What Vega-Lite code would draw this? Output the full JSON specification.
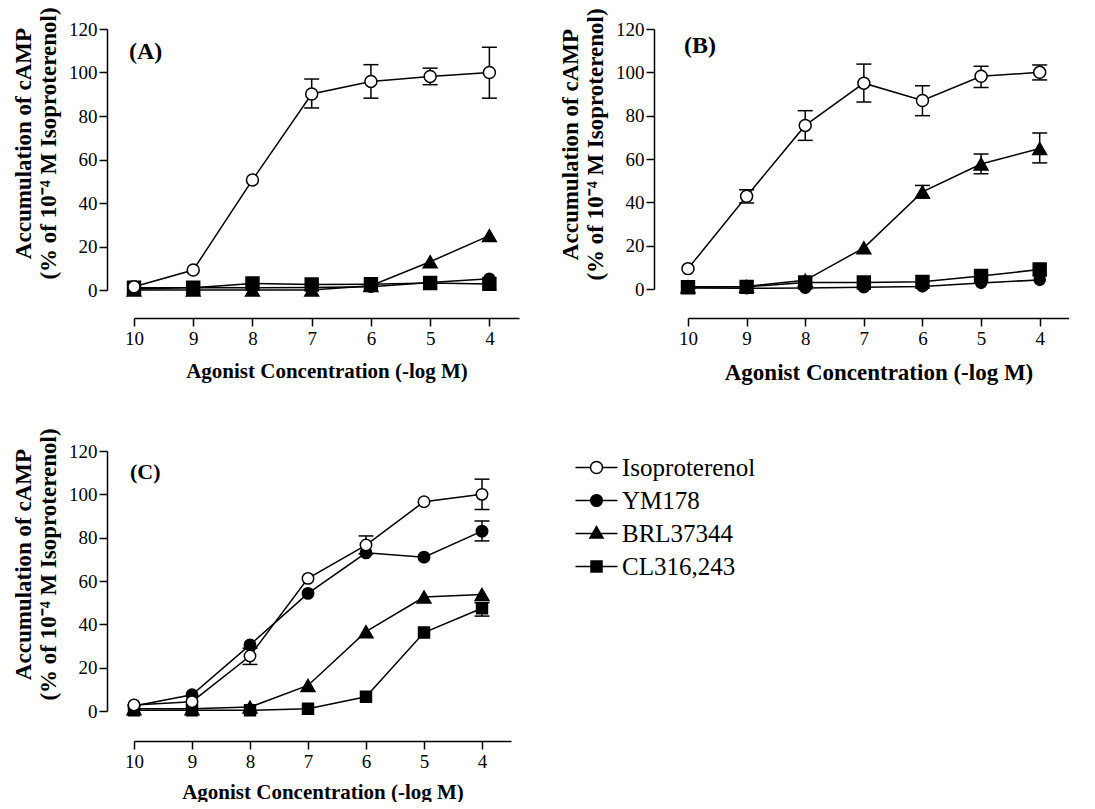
{
  "$schema": "https://vega.github.io/schema/vega-lite/v6.json",
  "background": "white",
  "padding": {"left": 12, "top": 6, "right": 0, "bottom": 0},
  "datasets": {
    "pts": [
      {"p": "A", "drug": "CL316,243", "x": 10, "y": 1},
      {"p": "A", "drug": "CL316,243", "x": 9, "y": 1},
      {"p": "A", "drug": "CL316,243", "x": 8, "y": 3},
      {"p": "A", "drug": "CL316,243", "x": 7, "y": 2.5},
      {"p": "A", "drug": "CL316,243", "x": 6, "y": 2.7},
      {"p": "A", "drug": "CL316,243", "x": 5, "y": 3.2},
      {"p": "A", "drug": "CL316,243", "x": 4, "y": 2.8},
      {"p": "A", "drug": "BRL37344", "x": 10, "y": 0},
      {"p": "A", "drug": "BRL37344", "x": 9, "y": 0},
      {"p": "A", "drug": "BRL37344", "x": 8, "y": 0},
      {"p": "A", "drug": "BRL37344", "x": 7, "y": 0},
      {"p": "A", "drug": "BRL37344", "x": 6, "y": 2},
      {"p": "A", "drug": "BRL37344", "x": 5, "y": 13},
      {"p": "A", "drug": "BRL37344", "x": 4, "y": 25},
      {"p": "A", "drug": "YM178", "x": 10, "y": 0.5},
      {"p": "A", "drug": "YM178", "x": 9, "y": 1.2},
      {"p": "A", "drug": "YM178", "x": 8, "y": 1.0},
      {"p": "A", "drug": "YM178", "x": 7, "y": 1.2},
      {"p": "A", "drug": "YM178", "x": 6, "y": 1.5},
      {"p": "A", "drug": "YM178", "x": 5, "y": 3.4},
      {"p": "A", "drug": "YM178", "x": 4, "y": 5.2},
      {"p": "A", "drug": "Isoproterenol", "x": 10, "y": 1.5},
      {"p": "A", "drug": "Isoproterenol", "x": 9, "y": 9.2},
      {"p": "A", "drug": "Isoproterenol", "x": 8, "y": 50.6},
      {"p": "A", "drug": "Isoproterenol", "x": 7, "y": 90.1},
      {"p": "A", "drug": "Isoproterenol", "x": 6, "y": 95.9},
      {"p": "A", "drug": "Isoproterenol", "x": 5, "y": 98.2},
      {"p": "A", "drug": "Isoproterenol", "x": 4, "y": 100},

      {"p": "B", "drug": "CL316,243", "x": 10, "y": 0.8},
      {"p": "B", "drug": "CL316,243", "x": 9, "y": 1},
      {"p": "B", "drug": "CL316,243", "x": 8, "y": 3},
      {"p": "B", "drug": "CL316,243", "x": 7, "y": 3},
      {"p": "B", "drug": "CL316,243", "x": 6, "y": 3.3},
      {"p": "B", "drug": "CL316,243", "x": 5, "y": 6},
      {"p": "B", "drug": "CL316,243", "x": 4, "y": 9},
      {"p": "B", "drug": "BRL37344", "x": 10, "y": 1},
      {"p": "B", "drug": "BRL37344", "x": 9, "y": 1.2},
      {"p": "B", "drug": "BRL37344", "x": 8, "y": 4},
      {"p": "B", "drug": "BRL37344", "x": 7, "y": 19},
      {"p": "B", "drug": "BRL37344", "x": 6, "y": 44.8},
      {"p": "B", "drug": "BRL37344", "x": 5, "y": 57.7},
      {"p": "B", "drug": "BRL37344", "x": 4, "y": 64.8},
      {"p": "B", "drug": "YM178", "x": 10, "y": 0.5},
      {"p": "B", "drug": "YM178", "x": 9, "y": 0.3},
      {"p": "B", "drug": "YM178", "x": 8, "y": 0.5},
      {"p": "B", "drug": "YM178", "x": 7, "y": 0.8},
      {"p": "B", "drug": "YM178", "x": 6, "y": 1.2},
      {"p": "B", "drug": "YM178", "x": 5, "y": 2.8},
      {"p": "B", "drug": "YM178", "x": 4, "y": 4.2},
      {"p": "B", "drug": "Isoproterenol", "x": 10, "y": 9.4},
      {"p": "B", "drug": "Isoproterenol", "x": 9, "y": 42.8},
      {"p": "B", "drug": "Isoproterenol", "x": 8, "y": 75.5},
      {"p": "B", "drug": "Isoproterenol", "x": 7, "y": 95},
      {"p": "B", "drug": "Isoproterenol", "x": 6, "y": 87},
      {"p": "B", "drug": "Isoproterenol", "x": 5, "y": 98.2},
      {"p": "B", "drug": "Isoproterenol", "x": 4, "y": 100},

      {"p": "C", "drug": "CL316,243", "x": 10, "y": 0.3},
      {"p": "C", "drug": "CL316,243", "x": 9, "y": 0.3},
      {"p": "C", "drug": "CL316,243", "x": 8, "y": 0.3},
      {"p": "C", "drug": "CL316,243", "x": 7, "y": 1},
      {"p": "C", "drug": "CL316,243", "x": 6, "y": 6.6},
      {"p": "C", "drug": "CL316,243", "x": 5, "y": 36.2},
      {"p": "C", "drug": "CL316,243", "x": 4, "y": 47.4},
      {"p": "C", "drug": "BRL37344", "x": 10, "y": 1},
      {"p": "C", "drug": "BRL37344", "x": 9, "y": 1},
      {"p": "C", "drug": "BRL37344", "x": 8, "y": 1.8},
      {"p": "C", "drug": "BRL37344", "x": 7, "y": 11.8},
      {"p": "C", "drug": "BRL37344", "x": 6, "y": 36.6},
      {"p": "C", "drug": "BRL37344", "x": 5, "y": 52.6},
      {"p": "C", "drug": "BRL37344", "x": 4, "y": 53.8},
      {"p": "C", "drug": "YM178", "x": 10, "y": 2.3},
      {"p": "C", "drug": "YM178", "x": 9, "y": 7.5},
      {"p": "C", "drug": "YM178", "x": 8, "y": 30.5},
      {"p": "C", "drug": "YM178", "x": 7, "y": 54.3},
      {"p": "C", "drug": "YM178", "x": 6, "y": 73},
      {"p": "C", "drug": "YM178", "x": 5, "y": 71},
      {"p": "C", "drug": "YM178", "x": 4, "y": 83},
      {"p": "C", "drug": "Isoproterenol", "x": 10, "y": 2.8},
      {"p": "C", "drug": "Isoproterenol", "x": 9, "y": 4.3},
      {"p": "C", "drug": "Isoproterenol", "x": 8, "y": 25.4},
      {"p": "C", "drug": "Isoproterenol", "x": 7, "y": 61.2},
      {"p": "C", "drug": "Isoproterenol", "x": 6, "y": 76.6},
      {"p": "C", "drug": "Isoproterenol", "x": 5, "y": 96.6},
      {"p": "C", "drug": "Isoproterenol", "x": 4, "y": 100}
    ],
    "err": [
      {"p": "A", "drug": "Isoproterenol", "x": 7, "lo": 83.7, "hi": 97},
      {"p": "A", "drug": "Isoproterenol", "x": 6, "lo": 88.2, "hi": 103.6},
      {"p": "A", "drug": "Isoproterenol", "x": 5, "lo": 94.4, "hi": 102},
      {"p": "A", "drug": "Isoproterenol", "x": 4, "lo": 88.2, "hi": 111.6},
      {"p": "B", "drug": "Isoproterenol", "x": 9, "lo": 39.7, "hi": 45.8},
      {"p": "B", "drug": "Isoproterenol", "x": 8, "lo": 68.6, "hi": 82.3},
      {"p": "B", "drug": "Isoproterenol", "x": 7, "lo": 86.3, "hi": 103.8},
      {"p": "B", "drug": "Isoproterenol", "x": 6, "lo": 80, "hi": 93.8},
      {"p": "B", "drug": "Isoproterenol", "x": 5, "lo": 93, "hi": 102.8},
      {"p": "B", "drug": "Isoproterenol", "x": 4, "lo": 96.5, "hi": 103.4},
      {"p": "B", "drug": "BRL37344", "x": 6, "lo": 42, "hi": 47.8},
      {"p": "B", "drug": "BRL37344", "x": 5, "lo": 53.2, "hi": 62.3},
      {"p": "B", "drug": "BRL37344", "x": 4, "lo": 58.2, "hi": 72},
      {"p": "C", "drug": "Isoproterenol", "x": 8, "lo": 21.5, "hi": 29},
      {"p": "C", "drug": "Isoproterenol", "x": 6, "lo": 72.5, "hi": 80.8},
      {"p": "C", "drug": "Isoproterenol", "x": 4, "lo": 93, "hi": 107},
      {"p": "C", "drug": "YM178", "x": 4, "lo": 78.5, "hi": 87.7},
      {"p": "C", "drug": "CL316,243", "x": 4, "lo": 43.8, "hi": 50}
    ]
  },
  "spacing": 43,
  "resolve": {"scale": {"shape": "independent", "fill": "independent", "size": "independent", "stroke": "independent"}, "legend": {"shape": "independent", "fill": "independent", "size": "independent", "stroke": "independent"}},
  "vconcat": [
    {
      "spacing": 40,
      "resolve": {"scale": {"shape": "independent", "fill": "independent", "size": "independent", "stroke": "independent"}, "legend": {"shape": "independent", "fill": "independent", "size": "independent", "stroke": "independent"}},
      "hconcat": [
        {
          "width": 385,
          "height": 261,
          "title": {"text": "(A)", "anchor": "start", "frame": "group", "orient": "top", "offset": -57, "dx": -5, "font": "Liberation Serif", "fontSize": 24, "fontWeight": "bold", "color": "black"},
          "encoding": {
            "x": {"field": "x", "type": "quantitative", "scale": {"domain": [10, 3.5], "nice": false, "zero": false},
                  "axis": {"title": "Agonist Concentration (-log M)", "values": [10, 9, 8, 7, 6, 5, 4], "format": "d", "offset": 28, "titleFontSize": 21, "titlePadding": 12}}
          },
          "layer": [
            {
              "data": {"name": "pts"}, "transform": [{"filter": "datum.p === 'A'"}],
              "mark": {"type": "line", "color": "black", "strokeWidth": 1.5},
              "encoding": {
                "y": {"field": "y", "type": "quantitative", "scale": {"domain": [0, 120], "nice": false, "zero": false},
                      "axis": {"title": ["Accumulation of cAMP", "(% of 10⁻⁴ M Isoproterenol)"], "values": [0, 20, 40, 60, 80, 100, 120], "offset": 27, "titleY": 114}},
                "detail": {"field": "drug"}
              }
            },
            {
              "data": {"name": "err"}, "transform": [{"filter": "datum.p === 'A'"}],
              "mark": {"type": "rule", "color": "black", "strokeWidth": 1.5},
              "encoding": {
                "y": {"field": "lo", "type": "quantitative", "scale": {"domain": [0, 120], "nice": false, "zero": false},
                      "axis": {"title": ["Accumulation of cAMP", "(% of 10⁻⁴ M Isoproterenol)"], "values": [0, 20, 40, 60, 80, 100, 120], "offset": 27, "titleY": 114}},
                "y2": {"field": "hi"}
              }
            },
            {
              "data": {"name": "err"}, "transform": [{"filter": "datum.p === 'A'"}],
              "mark": {"type": "tick", "orient": "horizontal", "color": "black", "size": 15, "thickness": 1.5, "opacity": 1},
              "encoding": {
                "y": {"field": "lo", "type": "quantitative", "scale": {"domain": [0, 120], "nice": false, "zero": false},
                      "axis": {"title": ["Accumulation of cAMP", "(% of 10⁻⁴ M Isoproterenol)"], "values": [0, 20, 40, 60, 80, 100, 120], "offset": 27, "titleY": 114}}
              }
            },
            {
              "data": {"name": "err"}, "transform": [{"filter": "datum.p === 'A'"}],
              "mark": {"type": "tick", "orient": "horizontal", "color": "black", "size": 15, "thickness": 1.5, "opacity": 1},
              "encoding": {
                "y": {"field": "hi", "type": "quantitative", "scale": {"domain": [0, 120], "nice": false, "zero": false},
                      "axis": {"title": ["Accumulation of cAMP", "(% of 10⁻⁴ M Isoproterenol)"], "values": [0, 20, 40, 60, 80, 100, 120], "offset": 27, "titleY": 114}}
              }
            },
            {
              "data": {"name": "pts"}, "transform": [{"filter": "datum.p === 'A'"}],
              "mark": {"type": "point", "filled": true, "stroke": "black", "strokeWidth": 1.5, "opacity": 1},
              "encoding": {
                "y": {"field": "y", "type": "quantitative", "scale": {"domain": [0, 120], "nice": false, "zero": false},
                      "axis": {"title": ["Accumulation of cAMP", "(% of 10⁻⁴ M Isoproterenol)"], "values": [0, 20, 40, 60, 80, 100, 120], "offset": 27, "titleY": 114}},
                "shape": {"field": "drug", "scale": {"domain": ["Isoproterenol", "YM178", "BRL37344", "CL316,243"], "range": ["circle", "circle", "triangle-up", "square"]}, "legend": null},
                "fill": {"field": "drug", "scale": {"domain": ["CL316,243", "BRL37344", "YM178", "Isoproterenol"], "range": ["black", "black", "black", "white"]}, "legend": null},
                "size": {"field": "drug", "scale": {"domain": ["BRL37344", "CL316,243", "Isoproterenol", "YM178"], "range": [190, 120, 130, 130]}, "legend": null}
              }
            }
          ]
        },
        {
          "width": 381,
          "height": 260,
          "title": {"text": "(B)", "anchor": "start", "frame": "group", "orient": "top", "offset": -50, "dx": -4, "font": "Liberation Serif", "fontSize": 24, "fontWeight": "bold", "color": "black"},
          "encoding": {
            "x": {"field": "x", "type": "quantitative", "scale": {"domain": [10, 3.5], "nice": false, "zero": false},
                  "axis": {"title": "Agonist Concentration (-log M)", "values": [10, 9, 8, 7, 6, 5, 4], "format": "d", "offset": 29, "titleFontSize": 23, "titlePadding": 13}}
          },
          "layer": [
            {
              "data": {"name": "pts"}, "transform": [{"filter": "datum.p === 'B'"}],
              "mark": {"type": "line", "color": "black", "strokeWidth": 1.5},
              "encoding": {
                "y": {"field": "y", "type": "quantitative", "scale": {"domain": [0, 120], "nice": false, "zero": false},
                      "axis": {"title": ["Accumulation of cAMP", "(% of 10⁻⁴ M Isoproterenol)"], "values": [0, 20, 40, 60, 80, 100, 120], "offset": 34, "titleY": 115}},
                "detail": {"field": "drug"}
              }
            },
            {
              "data": {"name": "err"}, "transform": [{"filter": "datum.p === 'B'"}],
              "mark": {"type": "rule", "color": "black", "strokeWidth": 1.5},
              "encoding": {
                "y": {"field": "lo", "type": "quantitative", "scale": {"domain": [0, 120], "nice": false, "zero": false},
                      "axis": {"title": ["Accumulation of cAMP", "(% of 10⁻⁴ M Isoproterenol)"], "values": [0, 20, 40, 60, 80, 100, 120], "offset": 34, "titleY": 115}},
                "y2": {"field": "hi"}
              }
            },
            {
              "data": {"name": "err"}, "transform": [{"filter": "datum.p === 'B'"}],
              "mark": {"type": "tick", "orient": "horizontal", "color": "black", "size": 15, "thickness": 1.5, "opacity": 1},
              "encoding": {
                "y": {"field": "lo", "type": "quantitative", "scale": {"domain": [0, 120], "nice": false, "zero": false},
                      "axis": {"title": ["Accumulation of cAMP", "(% of 10⁻⁴ M Isoproterenol)"], "values": [0, 20, 40, 60, 80, 100, 120], "offset": 34, "titleY": 115}}
              }
            },
            {
              "data": {"name": "err"}, "transform": [{"filter": "datum.p === 'B'"}],
              "mark": {"type": "tick", "orient": "horizontal", "color": "black", "size": 15, "thickness": 1.5, "opacity": 1},
              "encoding": {
                "y": {"field": "hi", "type": "quantitative", "scale": {"domain": [0, 120], "nice": false, "zero": false},
                      "axis": {"title": ["Accumulation of cAMP", "(% of 10⁻⁴ M Isoproterenol)"], "values": [0, 20, 40, 60, 80, 100, 120], "offset": 34, "titleY": 115}}
              }
            },
            {
              "data": {"name": "pts"}, "transform": [{"filter": "datum.p === 'B'"}],
              "mark": {"type": "point", "filled": true, "stroke": "black", "strokeWidth": 1.5, "opacity": 1},
              "encoding": {
                "y": {"field": "y", "type": "quantitative", "scale": {"domain": [0, 120], "nice": false, "zero": false},
                      "axis": {"title": ["Accumulation of cAMP", "(% of 10⁻⁴ M Isoproterenol)"], "values": [0, 20, 40, 60, 80, 100, 120], "offset": 34, "titleY": 115}},
                "shape": {"field": "drug", "scale": {"domain": ["Isoproterenol", "YM178", "BRL37344", "CL316,243"], "range": ["circle", "circle", "triangle-up", "square"]}, "legend": null},
                "fill": {"field": "drug", "scale": {"domain": ["CL316,243", "BRL37344", "YM178", "Isoproterenol"], "range": ["black", "black", "black", "white"]}, "legend": null},
                "size": {"field": "drug", "scale": {"domain": ["BRL37344", "CL316,243", "Isoproterenol", "YM178"], "range": [190, 120, 130, 130]}, "legend": null}
              }
            }
          ]
        }
      ]
    },
    {
      "width": 377,
      "height": 260,
      "title": {"text": "(C)", "anchor": "start", "frame": "group", "orient": "top", "offset": -56, "dx": -4, "font": "Liberation Serif", "fontSize": 22, "fontWeight": "bold", "color": "black"},
      "encoding": {
        "x": {"field": "x", "type": "quantitative", "scale": {"domain": [10, 3.5], "nice": false, "zero": false},
              "axis": {"title": "Agonist Concentration (-log M)", "values": [10, 9, 8, 7, 6, 5, 4], "format": "d", "offset": 30, "titleFontSize": 21, "titlePadding": 10}},
        "y": {"field": "y", "type": "quantitative", "scale": {"domain": [0, 120], "nice": false, "zero": false},
              "axis": {"title": ["Accumulation of cAMP", "(% of 10⁻⁴ M Isoproterenol)"], "values": [0, 20, 40, 60, 80, 100, 120], "offset": 27, "titleY": 113}}
      },
      "layer": [
        {
          "data": {"name": "pts"}, "transform": [{"filter": "datum.p === 'C'"}],
          "mark": {"type": "line", "color": "black", "strokeWidth": 1.5},
          "encoding": {"detail": {"field": "drug"}}
        },
        {
          "data": {"name": "err"}, "transform": [{"filter": "datum.p === 'C'"}],
          "mark": {"type": "rule", "color": "black", "strokeWidth": 1.5},
          "encoding": {
            "y": {"field": "lo", "type": "quantitative", "scale": {"domain": [0, 120], "nice": false, "zero": false},
                  "axis": {"title": ["Accumulation of cAMP", "(% of 10⁻⁴ M Isoproterenol)"], "values": [0, 20, 40, 60, 80, 100, 120], "offset": 27, "titleY": 113}},
            "y2": {"field": "hi"}
          }
        },
        {
          "data": {"name": "err"}, "transform": [{"filter": "datum.p === 'C'"}],
          "mark": {"type": "tick", "orient": "horizontal", "color": "black", "size": 15, "thickness": 1.5, "opacity": 1},
          "encoding": {
            "y": {"field": "lo", "type": "quantitative", "scale": {"domain": [0, 120], "nice": false, "zero": false},
                  "axis": {"title": ["Accumulation of cAMP", "(% of 10⁻⁴ M Isoproterenol)"], "values": [0, 20, 40, 60, 80, 100, 120], "offset": 27, "titleY": 113}}
          }
        },
        {
          "data": {"name": "err"}, "transform": [{"filter": "datum.p === 'C'"}],
          "mark": {"type": "tick", "orient": "horizontal", "color": "black", "size": 15, "thickness": 1.5, "opacity": 1},
          "encoding": {
            "y": {"field": "hi", "type": "quantitative", "scale": {"domain": [0, 120], "nice": false, "zero": false},
                  "axis": {"title": ["Accumulation of cAMP", "(% of 10⁻⁴ M Isoproterenol)"], "values": [0, 20, 40, 60, 80, 100, 120], "offset": 27, "titleY": 113}}
          }
        },
        {
          "data": {"name": "pts"}, "transform": [{"filter": "datum.p === 'C'"}],
          "mark": {"type": "point", "filled": true, "stroke": "black", "strokeWidth": 1.5, "opacity": 0, "size": 400},
          "encoding": {
            "shape": {"field": "drug", "scale": {"domain": ["Isoproterenol", "YM178", "BRL37344", "CL316,243"],
                      "range": ["M-2.1,0H-0.6M2.1,0H0.6M0.6,0A0.6,0.6,0,1,1,-0.6,0A0.6,0.6,0,1,1,0.6,0Z",
                                "M-2.1,0H2.1M0.58,0A0.58,0.58,0,1,1,-0.58,0A0.58,0.58,0,1,1,0.58,0Z",
                                "M-2.1,0H2.1M0,-0.7L0.66,0.45L-0.66,0.45Z",
                                "M-2.1,0H2.1M-0.55,-0.55H0.55V0.55H-0.55Z"]},
                      "legend": {
                        "title": null, "orient": "right", "offset": 69, "padding": 4,
                        "labelFont": "Liberation Serif", "labelFontSize": 25, "labelColor": "black", "labelOffset": 13,
                        "symbolSize": 400, "symbolStrokeWidth": 1.5, "symbolStrokeColor": "black", "symbolOpacity": 1, "rowPadding": 7
                      }},
            "fill": {"field": "drug", "scale": {"domain": ["Isoproterenol", "YM178", "BRL37344", "CL316,243"], "range": ["white", "black", "black", "black"]}},
            "stroke": {"field": "drug", "scale": {"domain": ["Isoproterenol", "YM178", "BRL37344", "CL316,243"], "range": ["black", "black", "black", "black"]}}
          }
        },
        {
          "data": {"name": "pts"}, "transform": [{"filter": "datum.p === 'C' && datum.drug === 'CL316,243'"}],
          "mark": {"type": "point", "shape": "square", "size": 120, "filled": true, "fill": "black", "stroke": "black", "strokeWidth": 1.5, "opacity": 1}
        },
        {
          "data": {"name": "pts"}, "transform": [{"filter": "datum.p === 'C' && datum.drug === 'BRL37344'"}],
          "mark": {"type": "point", "shape": "triangle-up", "size": 190, "filled": true, "fill": "black", "stroke": "black", "strokeWidth": 1.5, "opacity": 1}
        },
        {
          "data": {"name": "pts"}, "transform": [{"filter": "datum.p === 'C' && datum.drug === 'YM178'"}],
          "mark": {"type": "point", "shape": "circle", "size": 130, "filled": true, "fill": "black", "stroke": "black", "strokeWidth": 1.5, "opacity": 1}
        },
        {
          "data": {"name": "pts"}, "transform": [{"filter": "datum.p === 'C' && datum.drug === 'Isoproterenol'"}],
          "mark": {"type": "point", "shape": "circle", "size": 130, "filled": true, "fill": "white", "stroke": "black", "strokeWidth": 1.5, "opacity": 1}
        }
      ]
    }
  ],
  "config": {
    "view": {"stroke": null},
    "axis": {
      "grid": false, "tickSize": 8, "tickWidth": 1.5, "tickColor": "black", "domainWidth": 1.5, "domainColor": "black",
      "labelFont": "Liberation Serif", "labelFontSize": 19, "labelColor": "black", "labelFlush": false, "labelOverlap": false,
      "titleFont": "Liberation Serif", "titleFontWeight": "bold", "titleColor": "black"
    },
    "axisY": {"titleFontSize": 23, "titleLineHeight": 25, "titlePadding": 8, "labelPadding": 2},
    "axisX": {"titlePadding": 9, "labelPadding": 3}
  }
}
